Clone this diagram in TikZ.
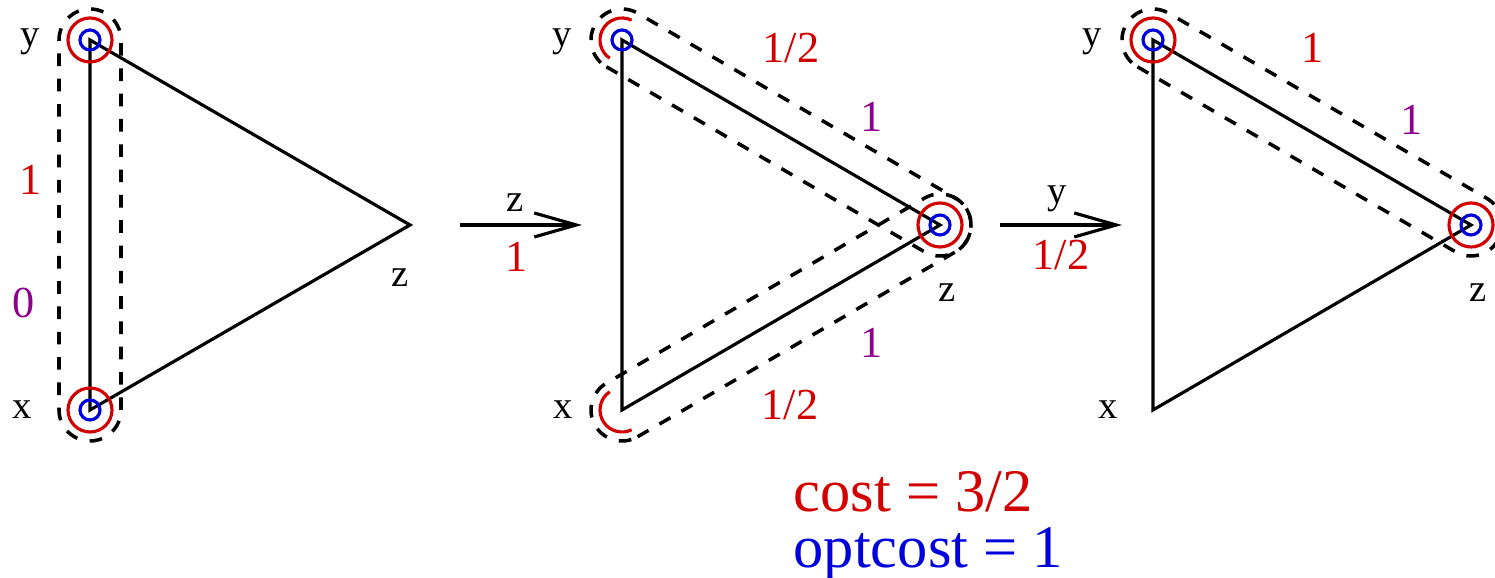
\documentclass[tikz,border=0pt]{standalone}
\usepackage{fontspec}
\setmainfont{Liberation Serif}
\usetikzlibrary{arrows.meta, calc}

% dashed capsule round the edge #1--#2
\newcommand{\stadium}[2]{%
  \draw[cutline] let \p1=($(#2)-(#1)$), \n1={atan2(\y1,\x1)} in
    ($(#1)!0.31cm!-90:(#2)$) -- ($(#2)!0.31cm!90:(#1)$)
    arc[start angle=\n1-90, delta angle=180, radius=0.31cm]
    -- ($(#1)!0.31cm!90:(#2)$)
    arc[start angle=\n1+90, delta angle=180, radius=0.31cm] -- cycle;}

\begin{document}
\begin{tikzpicture}[
    font=\fontsize{11}{13}\selectfont,
    graphline/.style={line width=0.9pt, black},
    cutline/.style={line width=1pt, black, dash pattern=on 3.6pt off 3.6pt},
    optring/.style={line width=0.9pt, optBlue},
    algring/.style={line width=0.9pt, costRed},
    vname/.style={anchor=base, inner sep=0pt},
    wcost/.style={anchor=base, inner sep=0pt, text=costRed,
                  font=\fontsize{12.6}{15}\selectfont},
    wdual/.style={anchor=base, inner sep=0pt, text=dualPurple,
                  font=\fontsize{12.6}{15}\selectfont},
    mover/.style={line width=0.9pt,
                  -{Straight Barb[length=4.2mm, width=2.4mm, line width=0.9pt]}},
    total/.style={anchor=base west, inner sep=0pt,
                  font=\fontsize{17.2}{20}\selectfont},
]

\definecolor{costRed}{RGB}{210,0,0}      % red
\definecolor{optBlue}{RGB}{0,0,220}      % blue
\definecolor{dualPurple}{RGB}{140,0,140} % purple

\useasboundingbox (0,0) rectangle (14.95,5.78);

% ============================================================
% VERTICES
% ============================================================
\coordinate (y1) at (0.90,5.38);
\coordinate (x1) at (0.90,1.68);
\coordinate (z1) at (4.10,3.53);

\coordinate (y2) at (6.22,5.38);
\coordinate (x2) at (6.22,1.68);
\coordinate (z2) at (9.40,3.53);

\coordinate (y3) at (11.53,5.38);
\coordinate (x3) at (11.53,1.68);
\coordinate (z3) at (14.71,3.53);

% ============================================================
% TRIANGLES
% ============================================================
\foreach \k in {1,2,3} {
    \draw[graphline] (y\k) -- (x\k) -- (z\k) -- cycle;
}

% ============================================================
% DASHED CAPSULES
% ============================================================
\stadium{x1}{y1}
\stadium{y2}{z2}
\stadium{x2}{z2}
\stadium{y3}{z3}

% ============================================================
% RINGS
% ============================================================
\foreach \v in {y1,x1,y2,z2,y3,z3}
    \draw[optring] (\v) circle[radius=0.10];
\foreach \v in {y1,x1,z2,y3,z3}
    \draw[algring] (\v) circle[radius=0.22];

% half rings in the middle step
\draw[algring] ($(y2)+(64:0.22)$) arc[start angle=64, end angle=236, radius=0.22];
\draw[algring] ($(x2)+(124:0.22)$) arc[start angle=124, end angle=296, radius=0.22];

% ============================================================
% VERTEX NAMES
% ============================================================
\node[vname] (ny1) at (0.30,5.31) {y};
\node[vname] (nx1) at (0.22,1.59) {x};
\node[vname] (nz1) at (4.00,2.91) {z};

\node[vname] (ny2) at (5.62,5.31) {y};
\node[vname] (nx2) at (5.63,1.59) {x};
\node[vname] (nz2) at (9.47,2.76) {z};

\node[vname] (ny3) at (10.92,5.31) {y};
\node[vname] (nx3) at (11.08,1.59) {x};
\node[vname] (nz3) at (14.78,2.76) {z};

% ============================================================
% EDGE WEIGHTS
% ============================================================
\node[wcost] (c1) at (0.31,3.83) {1};
\node[wdual] (d1) at (0.24,2.60) {0};

\node[wcost] (c2a) at (7.91,5.15) {1/2};
\node[wdual] (d2a) at (8.72,4.46) {1};
\node[wdual] (d2b) at (8.72,2.20) {1};
\node[wcost] (c2b) at (7.90,1.58) {1/2};

\node[wcost] (c3) at (13.13,5.15) {1};
\node[wdual] (d3) at (14.12,4.43) {1};

% ============================================================
% STEP ARROWS
% ============================================================
\coordinate (s1) at (4.60,3.53);
\coordinate (e1) at (5.82,3.53);
\draw[mover] (s1) -- (e1);
\node[vname] (m1) at (5.15,3.66) {z};
\node[wcost] (p1) at (5.17,3.06) {1};

\coordinate (s2) at (10.00,3.53);
\coordinate (e2) at (11.22,3.53);
\draw[mover] (s2) -- (e2);
\node[vname] (m2) at (10.57,3.74) {y};
\node[wcost] (p2) at (10.61,3.08) {1/2};

% ============================================================
% TOTALS
% ============================================================
\node[total, text=costRed] (tcost) at (7.93,0.66) {cost = 3/2};
\node[total, text=optBlue] (topt) at (7.93,0.10) {optcost = 1};

\end{tikzpicture}
\end{document}
